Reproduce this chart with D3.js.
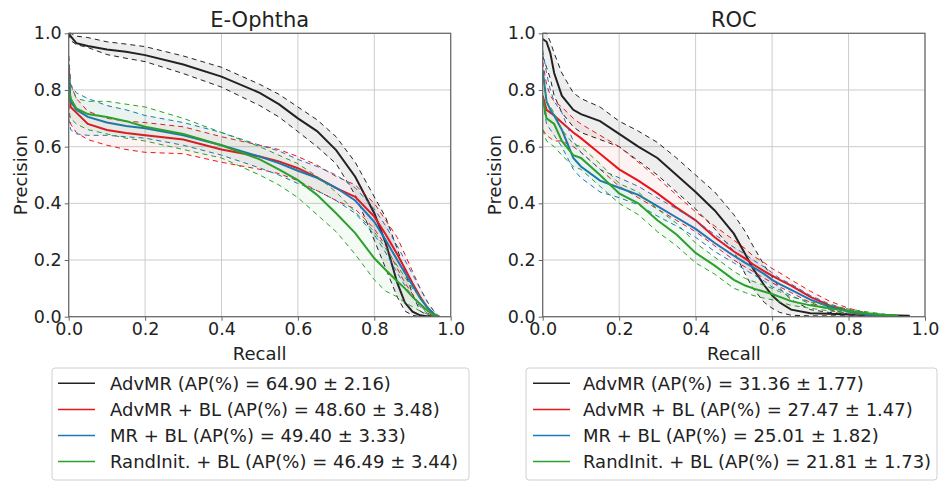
<!DOCTYPE html>
<html>
<head>
<meta charset="utf-8">
<script src="https://cdn.jsdelivr.net/npm/d3@7"></script>
<style>
  body { margin: 0; background: #fff; }
  text { font-family: "DejaVu Sans", sans-serif; fill: #222; }
</style>
</head>
<body>
<div id="chart"></div>
<script>
// E-Ophtha panel
var eoRecall = [0, 0.005, 0.02, 0.05, 0.1, 0.15, 0.2, 0.3, 0.4, 0.5, 0.55, 0.6, 0.65, 0.7, 0.75, 0.8, 0.83, 0.86, 0.88, 0.9, 0.92, 0.94, 0.96, 0.97];
var eoBlack = [1.0, 0.99, 0.965, 0.955, 0.943, 0.935, 0.923, 0.89, 0.847, 0.79, 0.75, 0.70, 0.655, 0.588, 0.494, 0.365, 0.26, 0.12, 0.05, 0.018, 0.005, 0.001, 0, 0];
var eoBlackHi = [1.0, 1.0, 0.99, 0.985, 0.97, 0.962, 0.953, 0.92, 0.88, 0.82, 0.785, 0.74, 0.695, 0.635, 0.545, 0.423, 0.35, 0.24, 0.16, 0.08, 0.02, 0.005, 0, 0];
var eoBlackLo = [1.0, 0.975, 0.96, 0.95, 0.925, 0.912, 0.90, 0.858, 0.81, 0.745, 0.705, 0.653, 0.60, 0.54, 0.43, 0.27, 0.17, 0.07, 0.02, 0.005, 0, 0, 0, 0];
var eoRed = [0.89, 0.74, 0.72, 0.68, 0.659, 0.648, 0.64, 0.625, 0.59, 0.565, 0.548, 0.524, 0.492, 0.454, 0.423, 0.353, 0.29, 0.22, 0.17, 0.118, 0.07, 0.03, 0.005, 0];
var eoRedHi = [0.92, 0.82, 0.77, 0.725, 0.70, 0.69, 0.685, 0.67, 0.635, 0.605, 0.59, 0.565, 0.535, 0.495, 0.465, 0.4, 0.34, 0.28, 0.22, 0.16, 0.1, 0.05, 0.012, 0];
var eoRedLo = [0.75, 0.68, 0.65, 0.625, 0.605, 0.59, 0.58, 0.575, 0.545, 0.52, 0.505, 0.48, 0.445, 0.41, 0.38, 0.31, 0.25, 0.17, 0.12, 0.08, 0.04, 0.012, 0, 0];
var eoBlue = [0.85, 0.76, 0.73, 0.705, 0.685, 0.673, 0.665, 0.64, 0.605, 0.565, 0.542, 0.515, 0.49, 0.455, 0.41, 0.335, 0.27, 0.2, 0.155, 0.11, 0.065, 0.03, 0.005, 0];
var eoBlueHi = [0.92, 0.82, 0.79, 0.77, 0.745, 0.73, 0.71, 0.685, 0.65, 0.605, 0.585, 0.555, 0.53, 0.5, 0.455, 0.38, 0.32, 0.25, 0.2, 0.15, 0.1, 0.05, 0.012, 0];
var eoBlueLo = [0.7, 0.66, 0.645, 0.64, 0.64, 0.635, 0.63, 0.605, 0.57, 0.525, 0.5, 0.47, 0.445, 0.41, 0.365, 0.29, 0.225, 0.155, 0.11, 0.07, 0.035, 0.01, 0, 0];
var eoGreen = [0.8, 0.77, 0.735, 0.715, 0.705, 0.69, 0.67, 0.645, 0.605, 0.555, 0.52, 0.482, 0.43, 0.365, 0.295, 0.206, 0.165, 0.125, 0.1, 0.07, 0.045, 0.02, 0.003, 0];
var eoGreenHi = [0.88, 0.82, 0.77, 0.76, 0.76, 0.75, 0.74, 0.7, 0.65, 0.6, 0.57, 0.54, 0.495, 0.44, 0.37, 0.3, 0.24, 0.18, 0.14, 0.1, 0.07, 0.035, 0.008, 0];
var eoGreenLo = [0.72, 0.7, 0.68, 0.66, 0.645, 0.63, 0.62, 0.59, 0.56, 0.5, 0.465, 0.42, 0.36, 0.3, 0.22, 0.13, 0.09, 0.07, 0.05, 0.035, 0.02, 0.008, 0, 0];

// ROC panel
var rocRecall = [0, 0.01, 0.02, 0.03, 0.05, 0.08, 0.1, 0.15, 0.2, 0.25, 0.3, 0.35, 0.4, 0.45, 0.5, 0.53, 0.55, 0.58, 0.6, 0.62, 0.65, 0.7, 0.75, 0.8, 0.85, 0.9, 0.93, 0.96];
var rocBlack = [0.98, 0.97, 0.93, 0.86, 0.78, 0.73, 0.715, 0.69, 0.645, 0.6, 0.56, 0.5, 0.44, 0.375, 0.293, 0.22, 0.17, 0.11, 0.075, 0.05, 0.025, 0.012, 0.01, 0.008, 0.006, 0.005, 0.004, 0.003];
var rocBlackHi = [1.0, 1.0, 0.97, 0.93, 0.86, 0.79, 0.77, 0.74, 0.69, 0.655, 0.615, 0.56, 0.5, 0.44, 0.36, 0.3, 0.25, 0.18, 0.14, 0.1, 0.06, 0.025, 0.015, 0.01, 0.007, 0.005, 0.004, 0.003];
var rocBlackLo = [0.92, 0.88, 0.84, 0.78, 0.72, 0.67, 0.65, 0.625, 0.6, 0.55, 0.5, 0.44, 0.38, 0.31, 0.23, 0.15, 0.1, 0.05, 0.03, 0.015, 0.005, 0.003, 0.003, 0.003, 0.003, 0.003, 0.003, 0.003];
var rocRed = [0.78, 0.73, 0.72, 0.71, 0.685, 0.65, 0.63, 0.575, 0.52, 0.48, 0.435, 0.385, 0.34, 0.28, 0.23, 0.205, 0.185, 0.16, 0.145, 0.13, 0.11, 0.07, 0.04, 0.02, 0.008, 0.003, null, null];
var rocRedHi = [0.9, 0.82, 0.78, 0.76, 0.74, 0.7, 0.68, 0.64, 0.6, 0.545, 0.49, 0.43, 0.37, 0.32, 0.27, 0.24, 0.215, 0.19, 0.17, 0.155, 0.13, 0.09, 0.055, 0.03, 0.012, 0.004, null, null];
var rocRedLo = [0.66, 0.64, 0.63, 0.62, 0.62, 0.6, 0.58, 0.52, 0.46, 0.42, 0.38, 0.34, 0.3, 0.25, 0.2, 0.175, 0.16, 0.135, 0.12, 0.105, 0.085, 0.05, 0.025, 0.01, 0.004, 0.001, null, null];
var rocBlue = [0.87, 0.76, 0.73, 0.71, 0.66, 0.56, 0.53, 0.48, 0.455, 0.43, 0.39, 0.35, 0.31, 0.26, 0.215, 0.19, 0.175, 0.15, 0.13, 0.115, 0.095, 0.06, 0.035, 0.018, 0.008, 0.003, 0.001, null];
var rocBlueHi = [0.94, 0.86, 0.8, 0.76, 0.72, 0.62, 0.58, 0.52, 0.49, 0.46, 0.42, 0.38, 0.34, 0.29, 0.245, 0.22, 0.2, 0.175, 0.155, 0.135, 0.115, 0.075, 0.045, 0.025, 0.012, 0.004, 0.001, null];
var rocBlueLo = [0.76, 0.68, 0.66, 0.64, 0.6, 0.52, 0.49, 0.44, 0.42, 0.395, 0.355, 0.32, 0.28, 0.23, 0.19, 0.165, 0.15, 0.125, 0.105, 0.095, 0.075, 0.045, 0.025, 0.012, 0.005, 0.002, 0.001, null];
var rocGreen = [0.77, 0.7, 0.69, 0.68, 0.62, 0.57, 0.56, 0.5, 0.435, 0.4, 0.34, 0.29, 0.225, 0.18, 0.13, 0.11, 0.1, 0.088, 0.08, 0.07, 0.055, 0.04, 0.03, 0.02, 0.012, 0.006, 0.003, null];
var rocGreenHi = [0.86, 0.76, 0.74, 0.72, 0.66, 0.61, 0.6, 0.54, 0.47, 0.44, 0.38, 0.33, 0.26, 0.21, 0.16, 0.135, 0.125, 0.11, 0.1, 0.088, 0.07, 0.052, 0.04, 0.027, 0.017, 0.008, 0.004, null];
var rocGreenLo = [0.66, 0.62, 0.61, 0.6, 0.57, 0.53, 0.52, 0.46, 0.4, 0.36, 0.3, 0.25, 0.19, 0.15, 0.1, 0.085, 0.075, 0.065, 0.06, 0.052, 0.04, 0.03, 0.02, 0.013, 0.008, 0.004, 0.002, null];

var seriesColors = ['#222222', '#e8161b', '#1f77b4', '#2ca02c'];
var seriesNames = ['AdvMR', 'AdvMR + BL', 'MR + BL', 'RandInit. + BL'];
var eoAP = ['64.90 \u00b1 2.16', '48.60 \u00b1 3.48', '49.40 \u00b1 3.33', '46.49 \u00b1 3.44'];
var rocAP = ['31.36 \u00b1 1.77', '27.47 \u00b1 1.47', '25.01 \u00b1 1.82', '21.81 \u00b1 1.73'];
var ticks = [0, 0.2, 0.4, 0.6, 0.8, 1.0];

var w = 939, h = 482;
var svg = d3.select('#chart').append('svg').attr('width', w).attr('height', h);

var panels = [
  { title: 'E-Ophtha', left: 68.7, right: 450.7, recall: eoRecall, ap: eoAP,
    legend: { x: 52, w: 417, line: 58, text: 110 },
    series: [[eoBlack, eoBlackLo, eoBlackHi], [eoRed, eoRedLo, eoRedHi], [eoBlue, eoBlueLo, eoBlueHi], [eoGreen, eoGreenLo, eoGreenHi]] },
  { title: 'ROC', left: 542.7, right: 925, recall: rocRecall, ap: rocAP,
    legend: { x: 526, w: 411, line: 533, text: 583 },
    series: [[rocBlack, rocBlackLo, rocBlackHi], [rocRed, rocRedLo, rocRedHi], [rocBlue, rocBlueLo, rocBlueHi], [rocGreen, rocGreenLo, rocGreenHi]] }
];

var plotTop = 33.3, plotBottom = 316.7;

panels.forEach(function(p) {
  var x = d3.scaleLinear().domain([0, 1]).range([p.left, p.right]);
  var y = d3.scaleLinear().domain([0, 1]).range([plotBottom, plotTop]);
  var g = svg.append('g');

  // grid
  g.selectAll('.gx').data(ticks).enter().append('line')
    .attr('x1', d => x(d)).attr('x2', d => x(d))
    .attr('y1', plotTop).attr('y2', plotBottom)
    .attr('stroke', '#cccccc').attr('stroke-width', 1);
  g.selectAll('.gy').data(ticks).enter().append('line')
    .attr('x1', p.left).attr('x2', p.right)
    .attr('y1', d => y(d)).attr('y2', d => y(d))
    .attr('stroke', '#cccccc').attr('stroke-width', 1);

  var clip = 'clip' + p.title.replace(/\W/g, '');
  svg.append('clipPath').attr('id', clip).append('rect')
    .attr('x', p.left).attr('y', plotTop - 2).attr('width', p.right - p.left).attr('height', plotBottom - plotTop + 2);
  var plot = g.append('g').attr('clip-path', 'url(#' + clip + ')');

  p.series.forEach(function(s, i) {
    var rows = p.recall.map(function(r, k) {
      return { r: r, m: s[0][k], lo: s[1][k], hi: s[2][k] };
    });
    var col = seriesColors[i];
    plot.append('path').datum(rows)
      .attr('d', d3.area().defined(d => d.m != null)
        .x(d => x(d.r)).y0(d => y(d.lo)).y1(d => y(d.hi)))
      .attr('fill', col).attr('fill-opacity', i === 0 ? 0.08 : 0.05);
    ['lo', 'hi'].forEach(function(key) {
      plot.append('path').datum(rows)
        .attr('d', d3.line().defined(d => d[key] != null)
          .x(d => x(d.r)).y(d => y(d[key])))
        .attr('fill', 'none').attr('stroke', col).attr('stroke-width', 1)
        .attr('stroke-dasharray', '5,4');
    });
    plot.append('path').datum(rows)
      .attr('d', d3.line().defined(d => d.m != null)
        .x(d => x(d.r)).y(d => y(d.m)))
      .attr('fill', 'none').attr('stroke', col).attr('stroke-width', 2);
  });

  // frame
  g.append('rect').attr('x', p.left).attr('y', plotTop)
    .attr('width', p.right - p.left).attr('height', plotBottom - plotTop)
    .attr('fill', 'none').attr('stroke', '#666').attr('stroke-width', 1.2);

  var xAxis = d3.axisBottom(x).tickValues(ticks).tickFormat(d3.format('.1f')).tickSizeOuter(0).tickSize(4).tickPadding(2);
  var yAxis = d3.axisLeft(y).tickValues(ticks).tickFormat(d3.format('.1f')).tickSizeOuter(0).tickSize(4).tickPadding(3);
  var ax = g.append('g').attr('transform', 'translate(0,' + plotBottom + ')').call(xAxis);
  var ay = g.append('g').attr('transform', 'translate(' + p.left + ',0)').call(yAxis);
  [ax, ay].forEach(function(a) {
    a.select('.domain').remove();
    a.selectAll('line').attr('stroke', '#666');
    a.selectAll('text').style('font-size', '17.5px').style('font-family', 'DejaVu Sans').attr('fill', '#222');
  });

  g.append('text').attr('x', (p.left + p.right) / 2).attr('y', 27)
    .attr('text-anchor', 'middle').style('font-size', '21px').text(p.title);
  g.append('text').attr('x', (p.left + p.right) / 2).attr('y', 360)
    .attr('text-anchor', 'middle').style('font-size', '18px').text('Recall');
  g.append('text').attr('transform', 'translate(' + (p.left - 42) + ',' + ((plotTop + plotBottom) / 2) + ') rotate(-90)')
    .attr('text-anchor', 'middle').style('font-size', '18px').text('Precision');

  // legend
  var lg = g.append('g');
  lg.append('rect').attr('x', p.legend.x).attr('y', 368).attr('width', p.legend.w).attr('height', 112)
    .attr('rx', 3).attr('fill', '#fff').attr('stroke', '#d0d0d0');
  seriesNames.forEach(function(n, i) {
    var cy = 383.3 + i * 26.1;
    lg.append('line').attr('x1', p.legend.line).attr('x2', p.legend.line + 37)
      .attr('y1', cy).attr('y2', cy).attr('stroke', seriesColors[i]).attr('stroke-width', 1.5);
    lg.append('text').attr('x', p.legend.text).attr('y', cy + 6.5)
      .style('font-size', '18px').text(n + ' (AP(%) = ' + p.ap[i] + ')');
  });
});
</script>
</body>
</html>
